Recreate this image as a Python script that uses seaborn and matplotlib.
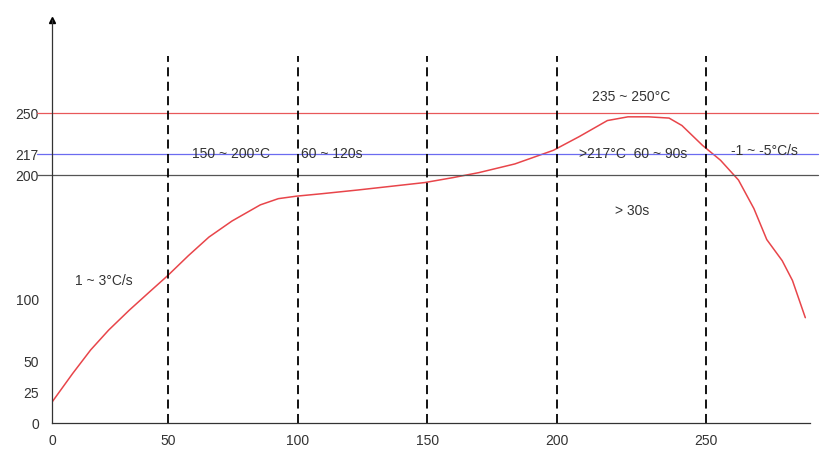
import numpy as np
import pandas as pd
import matplotlib
matplotlib.use("Agg")
import matplotlib.pyplot as plt
import seaborn as sns

# reflow profile
time_s = [0, 8, 15, 22, 30, 38, 45, 53, 61, 70, 81, 88, 95, 105, 119, 132, 145, 156, 166, 180, 195, 205, 216, 224, 232, 240, 245, 253, 260, 267, 273, 278, 284, 288, 293]
temp_c = [17, 40, 59, 75, 91, 106, 119, 135, 150, 163, 176, 181, 183, 185, 188, 191, 194, 198, 202, 209, 220, 231, 244, 247, 247, 246, 240, 224, 212, 196, 173, 148, 131, 115, 85]
zone_x = [45, 95.5, 146, 196.5, 254.5]
ref_lines = [250, 217, 200]
ref_colors = ["#e8585a", "#6b6bf0", "#555555"]
y_ticks = [0, 25, 50, 100, 200, 217, 250]
x_ticks = [0, 45, 95.5, 146, 196.5, 254.5]
x_labels = ["0", "50", "100", "150", "200", "250"]
notes = [(9, 111, "1 ~ 3°C/s"), (54.5, 214, "150 ~ 200°C"), (97, 214, "60 ~ 120s"),
         (205, 214, ">217°C  60 ~ 90s"), (210, 260, "235 ~ 250°C"),
         (219, 168, "> 30s"), (264, 216, "-1 ~ -5°C/s")]

sns.set_style("white")
plt.rcParams['font.family'] = ['Liberation Sans', 'DejaVu Sans']

fig = plt.figure(figsize=(8.27, 4.68), dpi=100)
ax = fig.add_axes([0.063, 0.096, 0.917, 0.861])

df = pd.DataFrame({"t": time_s, "T": temp_c})
sns.lineplot(data=df, x="t", y="T", ax=ax, color="#e8454a", linewidth=1.1)

for v, c in zip(ref_lines, ref_colors):
    ax.axhline(v, xmin=-0.02, xmax=1.01, color=c, linewidth=0.9, clip_on=False)
for v in zone_x:
    ax.axvline(v, ymin=0, ymax=0.91, color="black", linestyle=(0, (5, 3)), linewidth=1.3)

for x, y, s in notes:
    ax.text(x, y, s, fontsize=10, color="#333333")

ax.set_xlim(0, 295)
ax.set_ylim(0, 325)
ax.set_xticks(x_ticks)
ax.set_xticklabels(x_labels)
ax.set_yticks(y_ticks)
ax.tick_params(axis='y', direction='inout', length=12, labelsize=10, colors="#333333")
ax.tick_params(axis='x', length=0, labelsize=10, colors="#333333", pad=8)
ax.set_xlabel("")
ax.set_ylabel("")
for s in ["top", "right"]:
    ax.spines[s].set_visible(False)
for s in ["left", "bottom"]:
    ax.spines[s].set_color("#333333")
    ax.spines[s].set_linewidth(0.9)
ax.plot(0, 1, "^k", markersize=4, transform=ax.transAxes, clip_on=False)

fig.savefig("out.png", dpi=100)
